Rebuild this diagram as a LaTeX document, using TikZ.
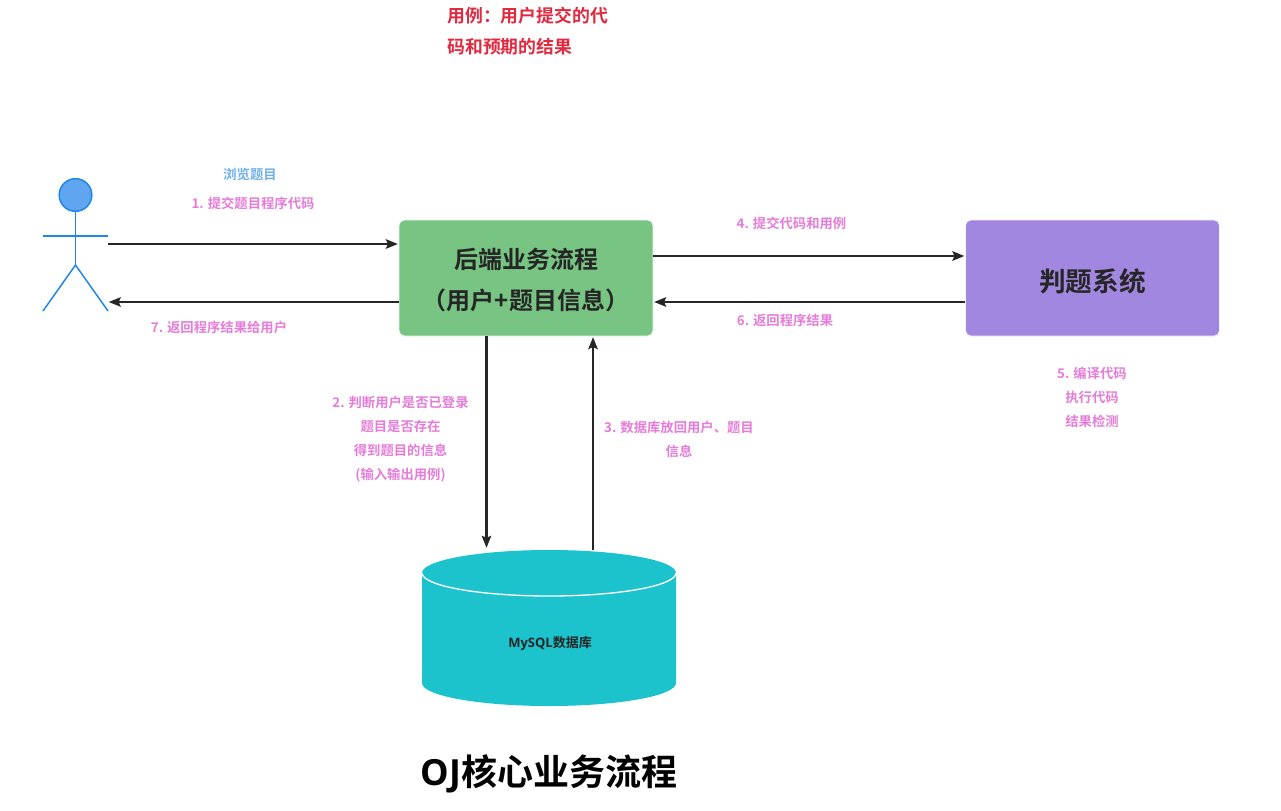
\documentclass[tikz,border=0pt]{standalone}
\usepackage{fontspec}
\setmainfont{Noto Sans CJK SC}[BoldFont={Noto Sans CJK SC Bold}]
\newfontfamily\latinbold{Open Sans}[BoldFont={Open Sans Bold}]
\usetikzlibrary{arrows.meta}
\definecolor{pinklab}{HTML}{E57CD8}
\definecolor{bluelab}{HTML}{6FB0E8}
\definecolor{redlab}{HTML}{DF2A3F}
\definecolor{boxgreen}{HTML}{77C483}
\definecolor{boxpurple}{HTML}{A287E1}
\definecolor{dbteal}{HTML}{1CC2CC}
\definecolor{actorblue}{HTML}{1E86E8}
\definecolor{actorfill}{HTML}{5FA5F0}
\definecolor{inkdark}{HTML}{262626}
\tikzset{
  x=0.75pt,y=-0.75pt,
  lab/.style={font=\bfseries\fontsize{10}{18}\selectfont,text=pinklab,align=center,inner sep=0pt},
  flowbox/.style={rounded corners=4pt,minimum width=190.5pt,minimum height=87pt,inner sep=0pt,align=center,text=inkdark},
  flow/.style={draw=inkdark,line width=1.7pt,-{Stealth[length=9pt,width=7pt,inset=1.5pt]},shorten >=0.5pt},
  limb/.style={draw=actorblue,line width=1.1pt,line cap=butt},
}
\begin{document}
\begin{tikzpicture}
\useasboundingbox (0,0) rectangle (1281,810);
% title and note
\node[anchor=center,inner sep=0pt,font=\bfseries\fontsize{27}{30}\selectfont,text=black] (title) at (549,773.5) {{\latinbold\bfseries OJ}核心业务流程};
\node[anchor=north west,inner sep=0pt,align=left,text=redlab,font=\bfseries\fontsize{13.4}{23.25}\selectfont] (note) at (447,6.5) {用例：用户提交的代\\码和预期的结果};
% actor
\node[circle,draw=actorblue,fill=actorfill,line width=1.1pt,minimum size=24.5pt,inner sep=0pt] (head) at (75.5,195) {};
\coordinate (hip) at (75.5,265);
\coordinate (armL) at (43,236);
\coordinate (armR) at (108,236);
\coordinate (footL) at (43,311);
\coordinate (footR) at (108,311);
\draw[limb] (head.south) -- (hip);
\draw[limb] (armL) -- (armR);
\draw[limb] (footL) -- (hip) -- (footR);
% boxes
\node[flowbox,fill=boxgreen,draw=boxgreen!12!white,line width=0.6pt,font=\bfseries\fontsize{18}{30.75}\selectfont] (backend) at (526,278) {\rule{0pt}{19pt}后端业务流程\\（用户+题目信息）};
\node[flowbox,fill=boxpurple,draw=boxpurple!12!white,line width=0.6pt,font=\bfseries\fontsize{20}{24}\selectfont] (judge) at (1092.5,278) {\rule{0pt}{22pt}判题系统};
% database
\fill[dbteal] (422,573) -- (422,683) arc[start angle=180,end angle=360,x radius=127,y radius=-23] -- (676,573) arc[start angle=0,end angle=-180,x radius=127,y radius=23] -- cycle;
\draw[white,line width=1pt] (422,573) arc[start angle=180,end angle=360,x radius=127,y radius=-23];
\node[inner sep=0pt,font=\bfseries\fontsize{9.75}{12}\selectfont,text=inkdark] (db) at (550,644) {{\latinbold\bfseries MySQL}数据库};
% connector anchors
\coordinate (a1s) at (108,244);
\coordinate (a7e) at (108,302);
\coordinate (a4y) at (654,256);
\coordinate (a6y) at (654,302);
\coordinate (dbin) at (486.5,548.5);
\coordinate (dbout) at (593,550);
% connectors
\draw[flow] (a1s) -- (backend.west |- a1s);
\draw[flow] (backend.west |- a7e) -- (a7e);
\draw[flow] (backend.east |- a4y) -- (judge.west |- a4y);
\draw[flow] (judge.west |- a6y) -- (backend.east |- a6y);
\draw[flow] (backend.south -| dbin) -- (dbin);
\draw[flow] (dbout) -- (backend.south -| dbout);
% labels
\node[lab,text=bluelab] (browse) at (250,174) {浏览题目};
\node[lab] (l1) at (253,203.5) {1. 提交题目程序代码};
\node[lab] (l7) at (219,327.5) {7. 返回程序结果给用户};
\node[lab] (l4) at (791.5,223) {4. 提交代码和用例};
\node[lab] (l6) at (785,320) {6. 返回程序结果};
\node[lab] (l5) at (1092,397) {5. 编译代码\\执行代码\\结果检测};
\node[lab] (l2) at (400.5,439.5) {2. 判断用户是否已登录\\题目是否存在\\得到题目的信息\\(输入输出用例)};
\node[lab] (l3) at (679,439.5) {3. 数据库放回用户、题目\\信息};
\end{tikzpicture}
\end{document}
